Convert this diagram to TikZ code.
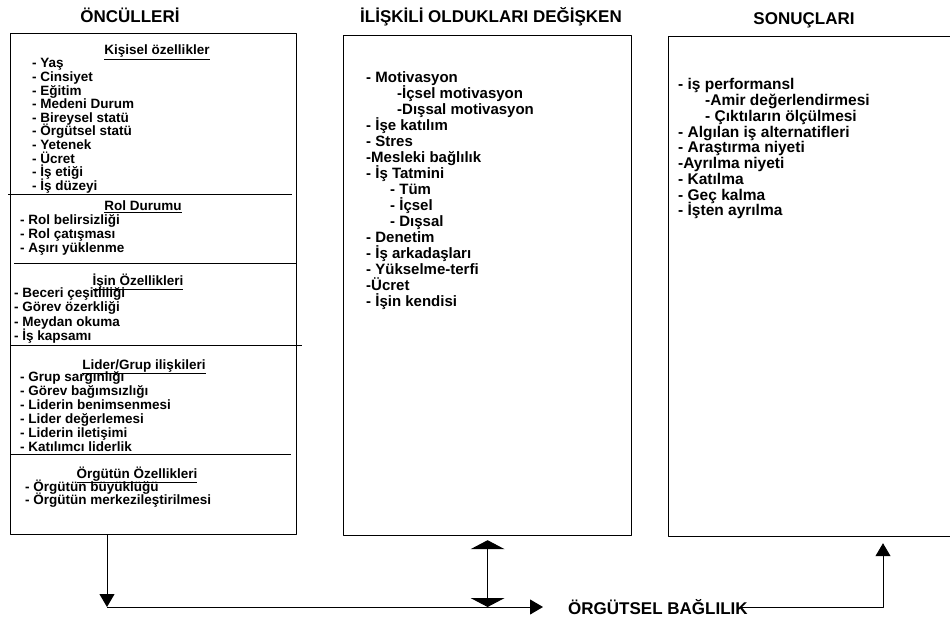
\documentclass[tikz,border=0pt]{standalone}
\usepackage{fontspec}
\setmainfont{Liberation Sans}
\usetikzlibrary{arrows.meta}
\tikzset{
  baslik/.style={font=\bfseries\fontsize{17}{19}\selectfont, anchor=base, inner sep=0pt},
  kutu/.style={draw, line width=1.2pt, anchor=north west, inner sep=0pt},
  madde/.style={font=\bfseries\fontsize{13.5}{14}\selectfont, anchor=base west, inner sep=0pt},
  orta/.style={font=\bfseries\fontsize{15}{16}\selectfont, anchor=base west, inner sep=0pt},
  sag/.style={font=\bfseries\fontsize{15.5}{16}\selectfont, anchor=base west, inner sep=0pt},
  bolum/.style={font=\bfseries\fontsize{13.5}{14}\selectfont, anchor=base, inner sep=0pt},
  ok/.style={line width=1pt, -{Triangle[width=15pt,length=13pt]}},
  ciftok/.style={line width=1pt, {Triangle[width=34pt,length=9pt]}-{Triangle[width=34pt,length=9pt]}}
}
\begin{document}
\begin{tikzpicture}[x=1pt, y=-1pt, line join=round]
  \useasboundingbox (0,0) rectangle (950,620);
  % basliklar
  \node[baslik] (t1) at (130,23) {ÖNCÜLLERİ};
  \node[baslik] (t2) at (491,23) {İLİŞKİLİ OLDUKLARI DEĞİŞKEN};
  \node[baslik] (t3) at (804,25) {SONUÇLARI};
  % kutular
  \node[kutu, minimum width=286pt, minimum height=501pt] (oncul) at (10,33) {};
  \node[kutu, minimum width=288pt, minimum height=500pt] (iliski) at (343,35) {};
  \node[kutu, minimum width=282pt, minimum height=500pt] (sonuc) at (668,36) {};
  % ara cizgiler
  \draw[line width=1pt] (8,195) -- (292,195) (14,264) -- (297,264)
    (11,345) -- (302,345) (10,454) -- (291,454);
  % kisisel ozellikler
  \node[bolum] (h1) at (157,55) {\underline{Kişisel özellikler}};
  \foreach \t [count=\i from 0] in {- Yaş, - Cinsiyet, - Eğitim, - Medeni Durum,
      - Bireysel statü, - Örgütsel statü, - Yetenek, - Ücret, - İş etiği, - İş düzeyi}
    \node[madde] (kis\i) at (32,{68+13.6*\i}) {\t};
  % rol durumu
  \node[bolum] (h2) at (143,211) {\underline{Rol Durumu}};
  \foreach \t [count=\i from 0] in {- Rol belirsizliği, - Rol çatışması, - Aşırı yüklenme}
    \node[madde] (rol\i) at (20,{225+14*\i}) {\t};
  % isin ozellikleri
  \node[bolum] (h3) at (138,285) {\underline{İşin Özellikleri}};
  \foreach \t [count=\i from 0] in {- Beceri çeşitliliği, - Görev özerkliği, - Meydan okuma, - İş kapsamı}
    \node[madde] (isn\i) at (14,{298+14*\i}) {\t};
  % lider/grup
  \node[bolum] (h4) at (144,369) {\underline{Lider/Grup ilişkileri}};
  \foreach \t [count=\i from 0] in {- Grup sargınlığı, - Görev bağımsızlığı, - Liderin benimsenmesi,
      - Lider değerlemesi, - Liderin iletişimi, - Katılımcı liderlik}
    \node[madde] (lid\i) at (20,{381+14*\i}) {\t};
  % orgutun ozellikleri
  \node[bolum] (h5) at (137,478) {\underline{Örgütün Özellikleri}};
  \foreach \t [count=\i from 0] in {- Örgütün büyüklüğü, - Örgütün merkezileştirilmesi}
    \node[madde] (org\i) at (25,{491+13*\i}) {\t};
  % iliskili degiskenler
  \foreach \x/\t [count=\i from 0] in {366/- Motivasyon, 397/-İçsel motivasyon, 397/-Dışsal motivasyon,
      366/- İşe katılım, 366/- Stres, 366/-Mesleki bağlılık, 366/- İş Tatmini, 390/- Tüm,
      390/- İçsel, 390/- Dışsal, 366/- Denetim, 366/- İş arkadaşları, 366/- Yükselme-terfi,
      366/-Ücret, 366/- İşin kendisi}
    \node[orta] (ili\i) at (\x,{83+15.95*\i}) {\t};
  % sonuclar
  \foreach \x/\t [count=\i from 0] in {678/- iş performansl, 705/-Amir değerlendirmesi,
      705/- Çıktıların ölçülmesi, 678/- Algılan iş alternatifleri, 678/- Araştırma niyeti,
      678/-Ayrılma niyeti, 678/- Katılma, 678/- Geç kalma, 678/- İşten ayrılma}
    \node[sag] (son\i) at (\x,{90+15.75*\i}) {\t};
  % orgutsel baglilik
  \node[baslik, anchor=base west] (bag) at (568,614) {ÖRGÜTSEL BAĞLILIK};
  \coordinate (kose) at (107,607);
  \coordinate (kose2) at (883,607);
  \draw[ok] (oncul.south -| kose) -- (kose);
  \draw[ok, shorten >=25pt] (kose) -- (kose -| bag.west);
  \draw[ciftok, shorten <=4pt] (iliski.south) -- (kose -| iliski.south);
  \draw[ok, shorten >=6pt] ([xshift=-8pt]bag.east |- kose) -- (kose2) -- (sonuc.south -| kose2);
\end{tikzpicture}
\end{document}
